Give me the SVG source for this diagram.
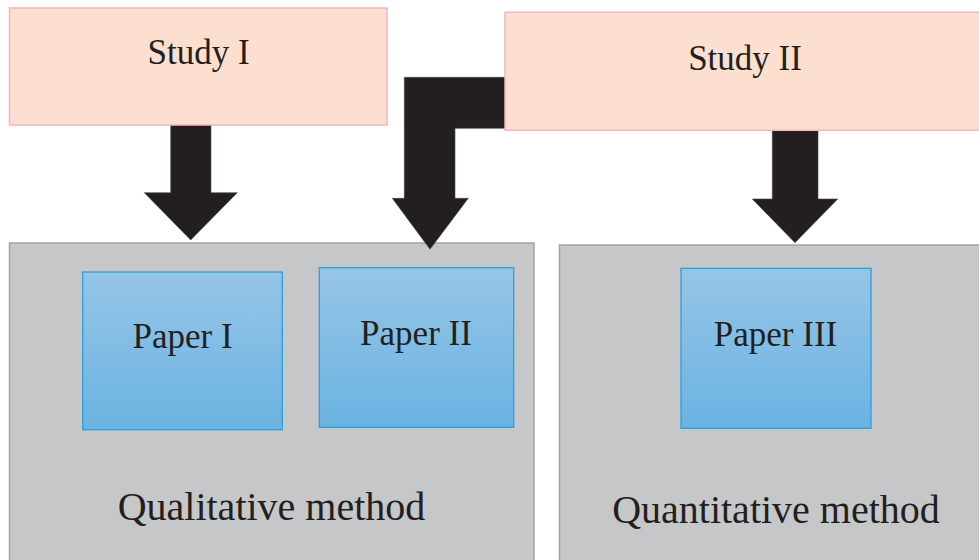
<svg xmlns="http://www.w3.org/2000/svg" width="979" height="560" viewBox="0 0 979 560">
  <defs>
    <linearGradient id="paperFill" x1="0" y1="0" x2="0" y2="1">
      <stop offset="0" stop-color="#96c5e7"/>
      <stop offset="1" stop-color="#6ab3e2"/>
    </linearGradient>
    <style>
      .study { fill: #fcdfcf; stroke: #f5b4bf; stroke-width: 1.5; }
      .method { fill: #c6c7c9; stroke: #a3a4a6; stroke-width: 1.5; }
      .paper { fill: url(#paperFill); stroke: #2d9fdb; stroke-width: 1.3; }
      .arrow { fill: #231f20; stroke: #4a4748; stroke-width: 0.6; }
      text { font-family: "Liberation Serif", "Times New Roman", serif; fill: #231f20; text-anchor: middle; }
      .lbl { font-size: 35px; }
      .big { font-size: 40px; }
    </style>
  </defs>

  <!-- method containers -->
  <g id="qualitative">
    <rect class="method" x="9.5" y="243" width="524.5" height="330"/>
    <text class="big" x="271.5" y="520">Qualitative method</text>
  </g>
  <g id="quantitative">
    <rect class="method" x="559.5" y="245" width="430" height="330"/>
    <text class="big" x="776" y="523">Quantitative method</text>
  </g>

  <!-- papers -->
  <g id="paper1">
    <rect class="paper" x="82.7" y="272" width="199.6" height="157.7"/>
    <text class="lbl" x="182.5" y="348">Paper I</text>
  </g>
  <g id="paper2">
    <rect class="paper" x="319.3" y="267.7" width="194.4" height="159.6"/>
    <text class="lbl" x="416" y="345">Paper II</text>
  </g>
  <g id="paper3">
    <rect class="paper" x="681" y="268.3" width="190" height="160"/>
    <text class="lbl" x="775.5" y="346">Paper III</text>
  </g>

  <!-- block arrows -->
  <g id="connectors">
    <polygon class="arrow" points="170.7,125 211,125 211,192.7 237.3,192.7 190.7,240 144.3,192.7 170.7,192.7"/>
    <polygon class="arrow" points="506,77.3 404.3,77.3 404.3,198.3 392.3,198.3 430,249.3 468.3,198.3 455,198.3 455,128.3 506,128.3"/>
    <polygon class="arrow" points="772.3,130 818,130 818,199 837.7,199 795,242.7 752.3,199 772.3,199"/>
  </g>

  <!-- studies -->
  <g id="study1">
    <rect class="study" x="9.5" y="8" width="377.5" height="117"/>
    <text class="lbl" x="198.5" y="64">Study I</text>
  </g>
  <g id="study2">
    <rect class="study" x="505" y="12.3" width="480" height="118"/>
    <text class="lbl" x="745" y="70">Study II</text>
  </g>
</svg>
